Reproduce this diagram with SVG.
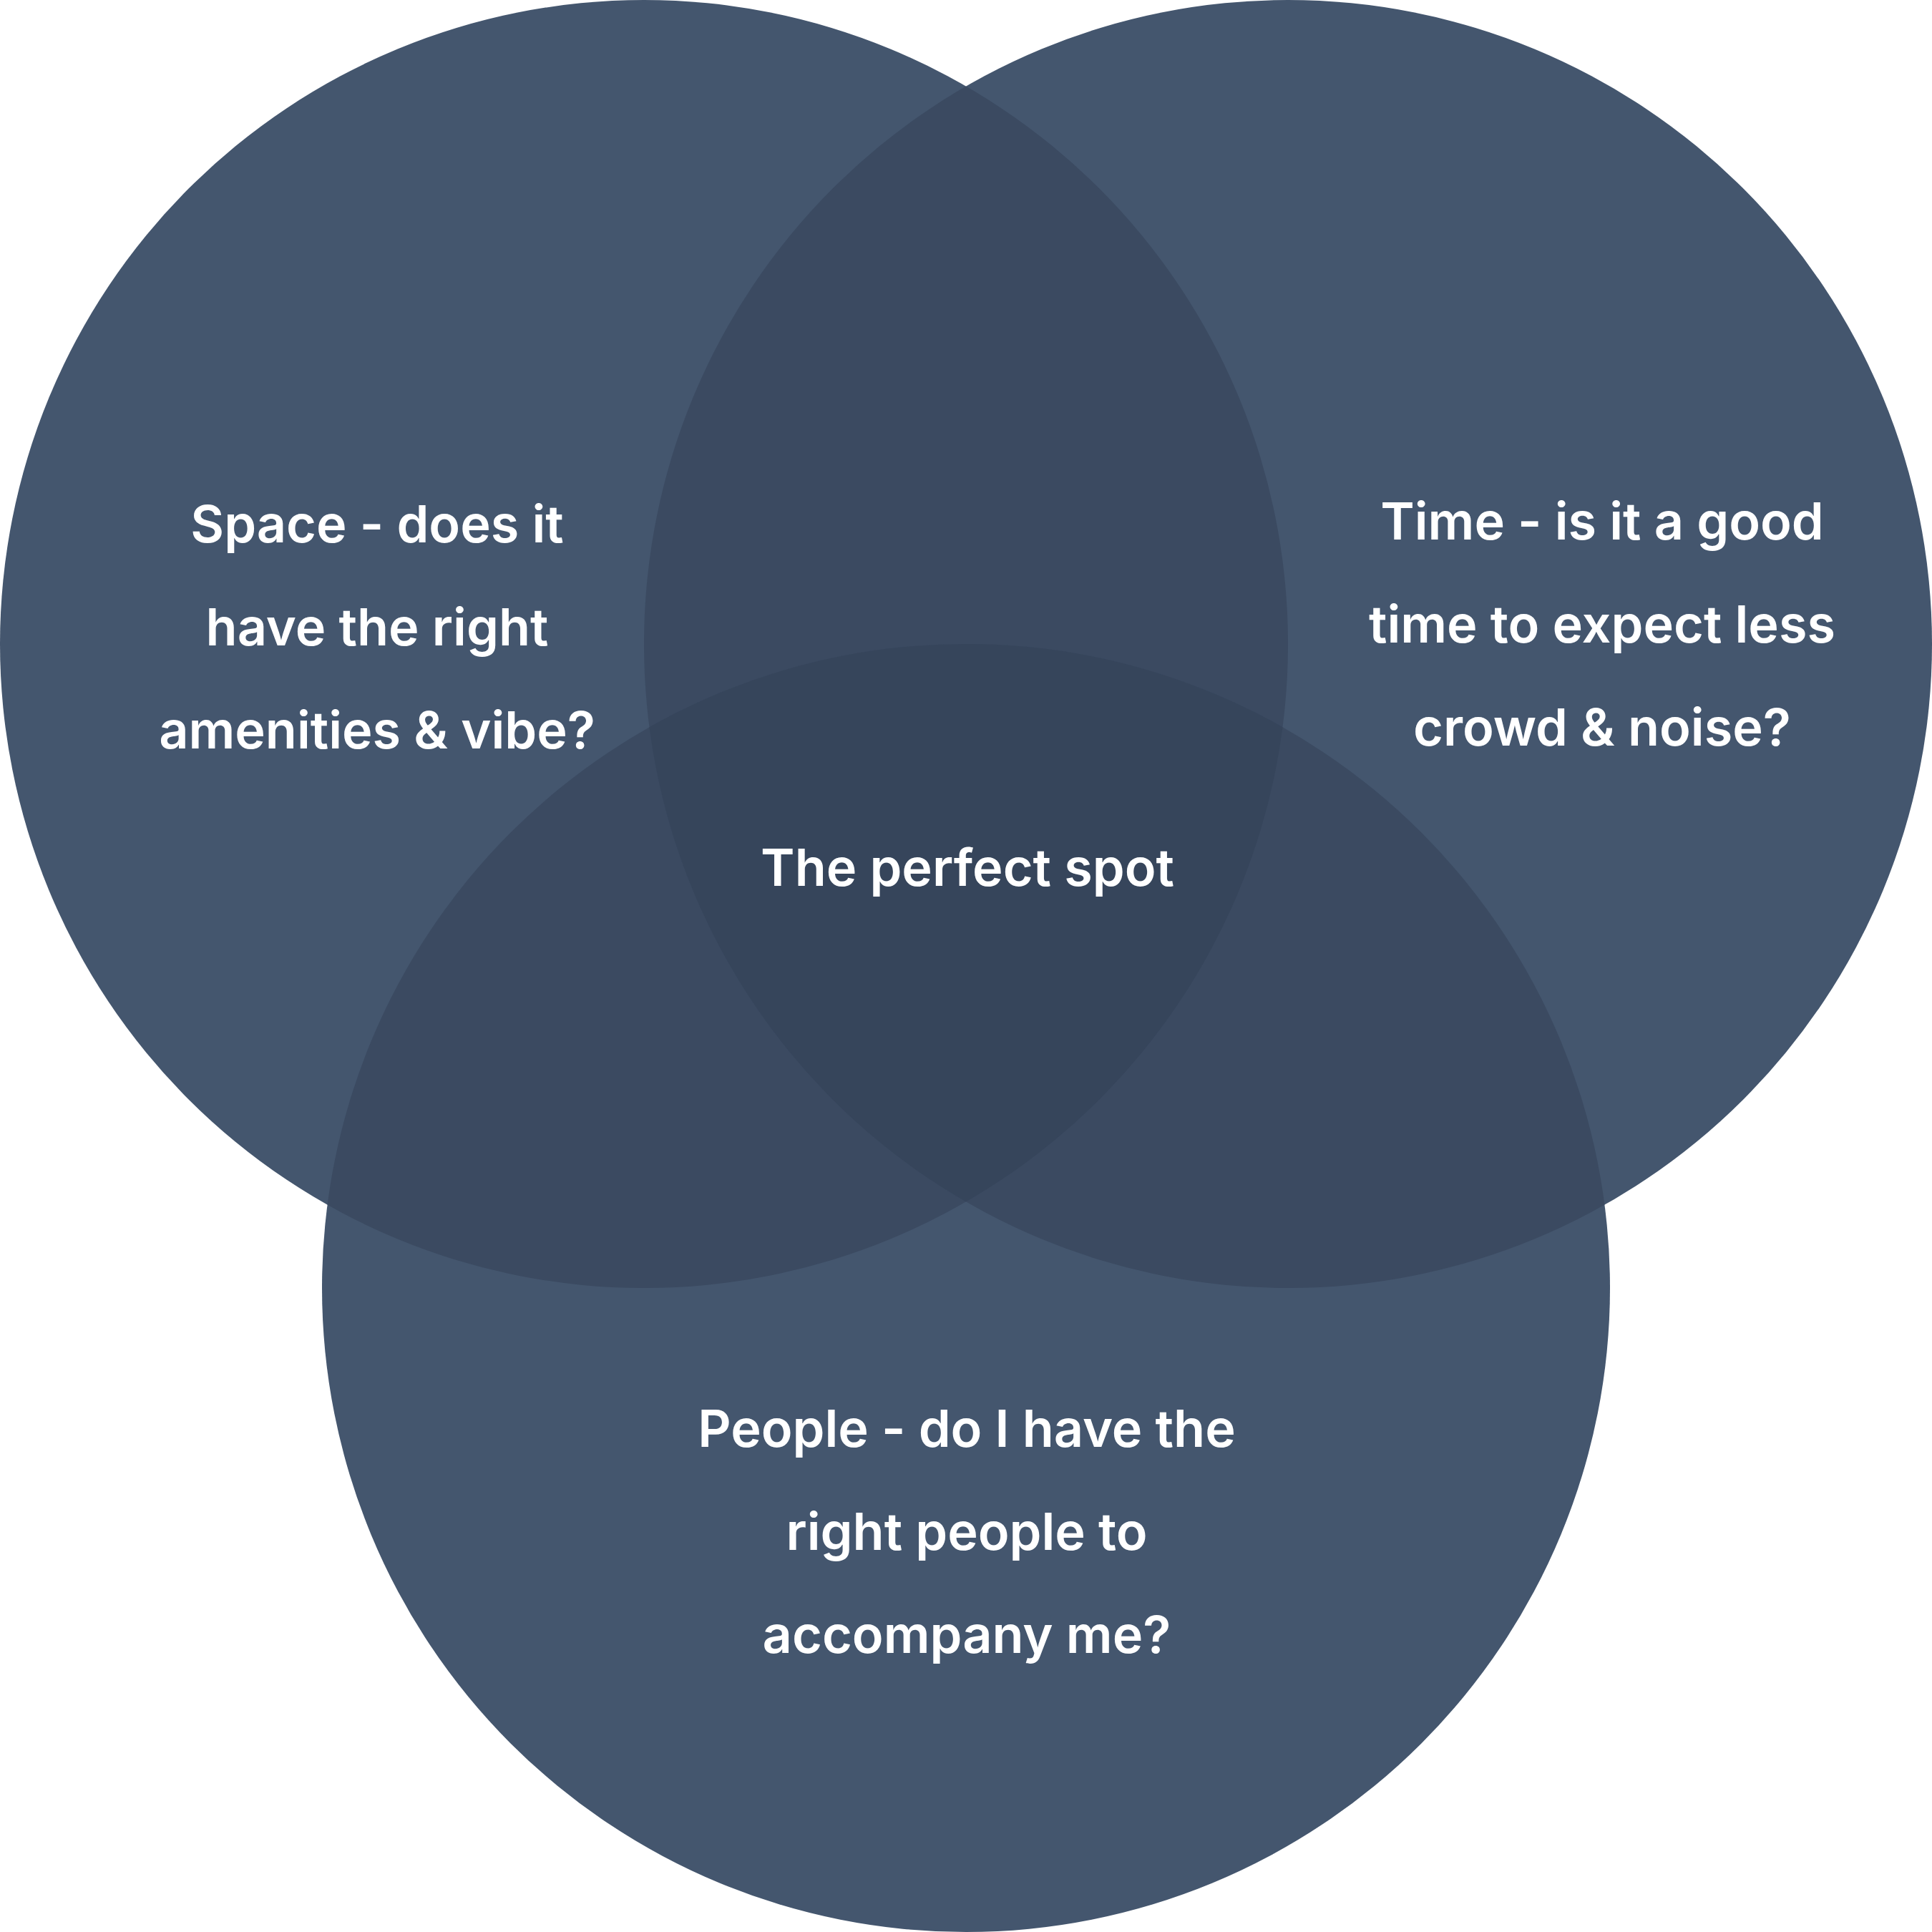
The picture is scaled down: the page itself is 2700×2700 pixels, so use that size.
<svg xmlns="http://www.w3.org/2000/svg" width="2700" height="2700" viewBox="0 0 2700 2700">
<style>
.one{fill:#44566e}
.two{fill:#3b4a61}
.three{fill:#36455b}
.lbl{fill:#ffffff;font-family:Inter,"Liberation Sans","DejaVu Sans",sans-serif;font-size:72px;font-weight:600;text-anchor:middle}
</style>
<defs>
<clipPath id="cA"><circle cx="900" cy="900" r="900"/></clipPath>
<clipPath id="cB"><circle cx="1800" cy="900" r="900"/></clipPath>
</defs>
<rect width="2700" height="2700" fill="#ffffff"/>
<g id="space">
<circle class="one" cx="900" cy="900" r="900"/>
</g>
<g id="time">
<circle class="one" cx="1800" cy="900" r="900"/>
</g>
<g id="people">
<circle class="one" cx="1350" cy="1800" r="900"/>
</g>
<g id="overlaps">
<circle class="two" cx="1800" cy="900" r="900" clip-path="url(#cA)"/>
<circle class="two" cx="1350" cy="1800" r="900" clip-path="url(#cA)"/>
<circle class="two" cx="1350" cy="1800" r="900" clip-path="url(#cB)"/>
<g clip-path="url(#cA)"><circle class="three" cx="1350" cy="1800" r="900" clip-path="url(#cB)"/></g>
</g>
<g id="labels">
<text class="lbl" x="527" y="758">Space - does it</text>
<text class="lbl" x="527" y="902">have the right</text>
<text class="lbl" x="527" y="1046">amenities &amp; vibe?</text>
<text class="lbl" x="2239" y="754">Time - is it a good</text>
<text class="lbl" x="2239" y="898">time to expect less</text>
<text class="lbl" x="2239" y="1042">crowd &amp; noise?</text>
<text class="lbl" x="1352" y="1238">The perfect spot</text>
<text class="lbl" x="1351" y="2022">People - do I have the</text>
<text class="lbl" x="1351" y="2166">right people to</text>
<text class="lbl" x="1351" y="2310">accompany me?</text>
</g>
</svg>
